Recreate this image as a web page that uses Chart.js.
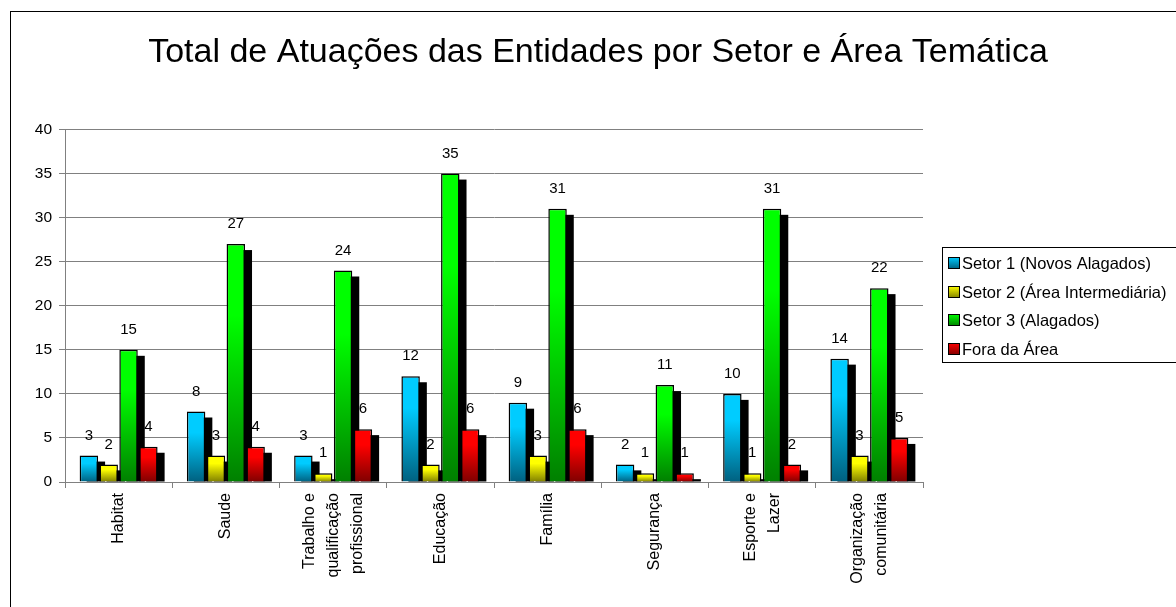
<!DOCTYPE html>
<html>
<head>
<meta charset="utf-8">
<script src="https://cdn.jsdelivr.net/npm/chart.js@4/dist/chart.umd.min.js"></script>
<style>
  html, body { margin: 0; padding: 0; background: #fff; }
  #wrap { width: 1176px; height: 607px; position: relative; }
</style>
</head>
<body>
<div id="wrap"><canvas id="grafico"></canvas></div>
<script>
// dados do gráfico
const categorias = [
  'Habitat',
  'Saude',
  ['Trabalho e', 'qualificação', 'profissional'],
  'Educação',
  'Família',
  'Segurança',
  ['Esporte e', 'Lazer'],
  ['Organização', 'comunitária']
];
const setor1 = [3, 8, 3, 12, 9, 2, 10, 14];
const setor2 = [2, 3, 1, 2, 3, 1, 1, 3];
const setor3 = [15, 27, 24, 35, 31, 11, 31, 22];
const foraArea = [4, 4, 6, 6, 6, 1, 2, 5];
const ticksY = [0, 5, 10, 15, 20, 25, 30, 35, 40];

const titulo = 'Total de Atuações das Entidades por Setor e Área Temática';
const FONTE = "'Liberation Sans', Arial, sans-serif";

// cor clara (topo) e escura (base) de cada série
const cores = [
  ['#00ccff', '#00607f'],
  ['#ffff00', '#7f7f00'],
  ['#00ff00', '#007f00'],
  ['#ff0000', '#7f0000']
];

// degradê vertical por barra
const degrade = function (i) {
  return function (ctx) {
    const chart = ctx.chart;
    if (!chart.chartArea || ctx.raw === undefined) return cores[i][0];
    const y = chart.scales.y;
    const topo = y.getPixelForValue(ctx.raw);
    const base = y.getPixelForValue(0);
    if (!isFinite(topo) || base - topo < 1) return cores[i][0];
    const g = chart.ctx.createLinearGradient(0, topo, 0, base);
    g.addColorStop(0, cores[i][0]);
    g.addColorStop(0.3, cores[i][0]);
    g.addColorStop(1, cores[i][1]);
    return g;
  };
};

// sombra preta atrás das barras
const sombraPlugin = {
  id: 'sombra',
  beforeDatasetsDraw(chart) {
    const c = chart.ctx;
    const a = chart.chartArea;
    c.save();
    c.beginPath();
    c.rect(a.left, a.top - 10, a.right - a.left + 20, a.bottom - a.top + 10);
    c.clip();
    c.fillStyle = '#000';
    chart.data.datasets.forEach(function (ds, i) {
      chart.getDatasetMeta(i).data.forEach(function (bar) {
        const w = bar.width;
        c.fillRect(bar.x - w / 2 + 7, bar.y + 6, w, bar.base - bar.y - 6);
      });
    });
    c.restore();
  }
};

// rótulos de valores, rótulos do eixo x, título, legenda e moldura
const extrasPlugin = {
  id: 'extras',
  afterDatasetsDraw(chart) {
    const c = chart.ctx;
    c.save();
    c.fillStyle = '#000';
    c.font = '15px ' + FONTE;
    c.textAlign = 'center';
    c.textBaseline = 'middle';
    chart.data.datasets.forEach(function (ds, i) {
      chart.getDatasetMeta(i).data.forEach(function (bar, j) {
        c.fillText(String(ds.data[j]), bar.x, bar.y - 20);
      });
    });
    c.restore();
  },
  afterDraw(chart) {
    const c = chart.ctx;
    const sx = chart.scales.x;
    c.save();

    // rótulos do eixo x, girados e centrados no grupo
    c.fillStyle = '#000';
    c.font = '16px ' + FONTE;
    c.textAlign = 'right';
    c.textBaseline = 'middle';
    categorias.forEach(function (cat, i) {
      const linhas = Array.isArray(cat) ? cat : [cat];
      const x = sx.getPixelForTick(i);
      linhas.forEach(function (txt, k) {
        const cx = x + (k - (linhas.length - 1) / 2) * 24;
        c.save();
        c.translate(cx, sx.top + 11);
        c.rotate(-Math.PI / 2);
        c.fillText(txt, 0, 0);
        c.restore();
      });
    });

    // moldura externa
    c.strokeStyle = '#000';
    c.lineWidth = 1;
    c.strokeRect(10.5, 11.5, 1300, 700);

    // título
    c.font = '34px ' + FONTE;
    c.textAlign = 'center';
    c.fillText(titulo, 598, 53);

    // legenda
    c.fillStyle = '#fff';
    c.fillRect(942.5, 247.5, 300, 115);
    c.strokeRect(942.5, 247.5, 300, 115);
    c.font = '16.5px ' + FONTE;
    c.textAlign = 'left';
    const linhasLeg = [263, 292, 320, 349];
    chart.data.datasets.forEach(function (ds, i) {
      const y = linhasLeg[i];
      const g = c.createLinearGradient(0, y - 6, 0, y + 6);
      g.addColorStop(0, cores[i][0]);
      g.addColorStop(1, cores[i][1]);
      c.fillStyle = g;
      c.fillRect(948.5, y - 5.5, 11, 11);
      c.strokeStyle = '#000';
      c.strokeRect(948.5, y - 5.5, 11, 11);
      c.fillStyle = '#000';
      c.fillText(ds.label, 962, y + 1);
    });
    c.restore();
  }
};

new Chart(document.getElementById('grafico'), {
  type: 'bar',
  data: {
    labels: categorias,
    datasets: [
      { label: 'Setor 1 (Novos Alagados)', data: setor1, backgroundColor: degrade(0) },
      { label: 'Setor 2 (Área Intermediária)', data: setor2, backgroundColor: degrade(1) },
      { label: 'Setor 3 (Alagados)', data: setor3, backgroundColor: degrade(2) },
      { label: 'Fora da Área', data: foraArea, backgroundColor: degrade(3) }
    ].map(function (d) {
      d.borderColor = '#000';
      d.borderWidth = 1.5;
      d.categoryPercentage = 0.74;
      d.barPercentage = 0.93;
      return d;
    })
  },
  options: {
    responsive: true,
    maintainAspectRatio: false,
    animation: false,
    layout: { padding: { top: 129.5, left: 10, right: 253, bottom: 0 } },
    plugins: {
      legend: { display: false },
      title: { display: false },
      tooltip: { enabled: false }
    },
    scales: {
      x: {
        afterFit: function (s) { s.height = 125; },
        grid: {
          offset: true,
          drawOnChartArea: false,
          color: '#808080',
          tickLength: 6
        },
        border: { color: '#808080' },
        ticks: { display: false, autoSkip: false }
      },
      y: {
        min: 0,
        max: 40,
        afterFit: function (s) { s.width = 55; },
        afterBuildTicks: function (s) { s.ticks = ticksY.map(function (v) { return { value: v }; }); },
        grid: { color: '#808080', tickLength: 6 },
        border: { color: '#808080' },
        ticks: {
          color: '#000',
          font: { family: FONTE, size: 15.5 },
          padding: 7
        }
      }
    }
  },
  plugins: [sombraPlugin, extrasPlugin]
});
</script>
</body>
</html>
